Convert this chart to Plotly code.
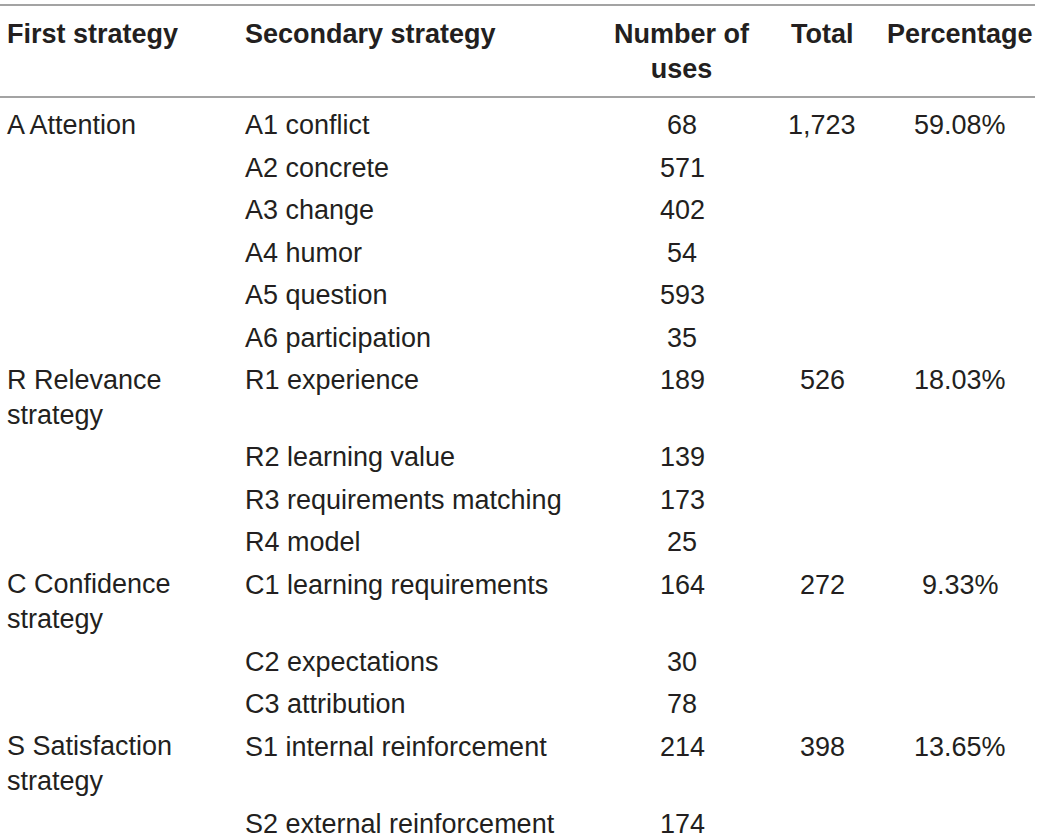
import plotly.graph_objects as go

# table content
headers = ["First strategy", "Secondary strategy", "Number of<br>uses", "Total", "Percentage"]
first_strategy = ["A Attention", "R Relevance<br>strategy", "C Confidence<br>strategy", "S Satisfaction<br>strategy"]
secondary_strategy = [
    ["A1 conflict", "A2 concrete", "A3 change", "A4 humor", "A5 question", "A6 participation"],
    ["R1 experience", "R2 learning value", "R3 requirements matching", "R4 model"],
    ["C1 learning requirements", "C2 expectations", "C3 attribution"],
    ["S1 internal reinforcement", "S2 external reinforcement"],
]
uses = [[68, 571, 402, 54, 593, 35], [189, 139, 173, 25], [164, 30, 78], [214, 174]]
totals = [1723, 526, 272, 398]
percentages = [59.08, 18.03, 9.33, 13.65]

# layout constants (pixels, origin top-left)
W, H = 1040, 839
FONT = "Liberation Sans, Arial, Helvetica, sans-serif"
SIZE = 27
TEXT = "#231f20"
RULE = "#a3a3a3"
col_x = [5, 243, 682, 822, 960]
col_anchor = ["left", "left", "center", "center", "center"]
ROW_H = 42.5
LINE_H = 34.5
HEADER_Y = 34
BODY_Y0 = 125


def n_lines(s):
    return s.count("<br>") + 1


def add_cell(fig, col, y_first, text, bold=False):
    # y_first is the centre of the first text line
    y = y_first + (n_lines(text) - 1) * LINE_H / 2
    fig.add_annotation(
        x=col_x[col], y=y, xref="x", yref="y",
        text=f"<b>{text}</b>" if bold else text,
        showarrow=False, xanchor=col_anchor[col], yanchor="middle",
        align="left" if col_anchor[col] == "left" else "center",
        font=dict(family=FONT, size=SIZE, color=TEXT),
    )


fig = go.Figure()

for i, h in enumerate(headers):
    add_cell(fig, i, HEADER_Y, h, bold=True)

y = BODY_Y0
for g, label in enumerate(first_strategy):
    add_cell(fig, 0, y, label)
    add_cell(fig, 3, y, f"{totals[g]:,}")
    add_cell(fig, 4, y, f"{percentages[g]:.2f}%")
    for k, sub in enumerate(secondary_strategy[g]):
        add_cell(fig, 1, y, sub)
        add_cell(fig, 2, y, str(uses[g][k]))
        extra = n_lines(label) - 1 if k == 0 else 0
        y += ROW_H + extra * LINE_H

for ly in [5, 97]:
    fig.add_shape(type="line", x0=0, x1=1035, y0=ly, y1=ly, xref="x", yref="y",
                  line=dict(color=RULE, width=2))

fig.update_xaxes(range=[0, W], visible=False, fixedrange=True)
fig.update_yaxes(range=[H, 0], visible=False, fixedrange=True)
fig.update_layout(
    width=W, height=H,
    margin=dict(l=0, r=0, t=0, b=0),
    plot_bgcolor="white", paper_bgcolor="white",
    showlegend=False,
)

# drop the default page margin so the figure sits at the window corner
fig.write_html("out.html", config={"displayModeBar": False},
               post_script="document.body.style.margin = '0';")
